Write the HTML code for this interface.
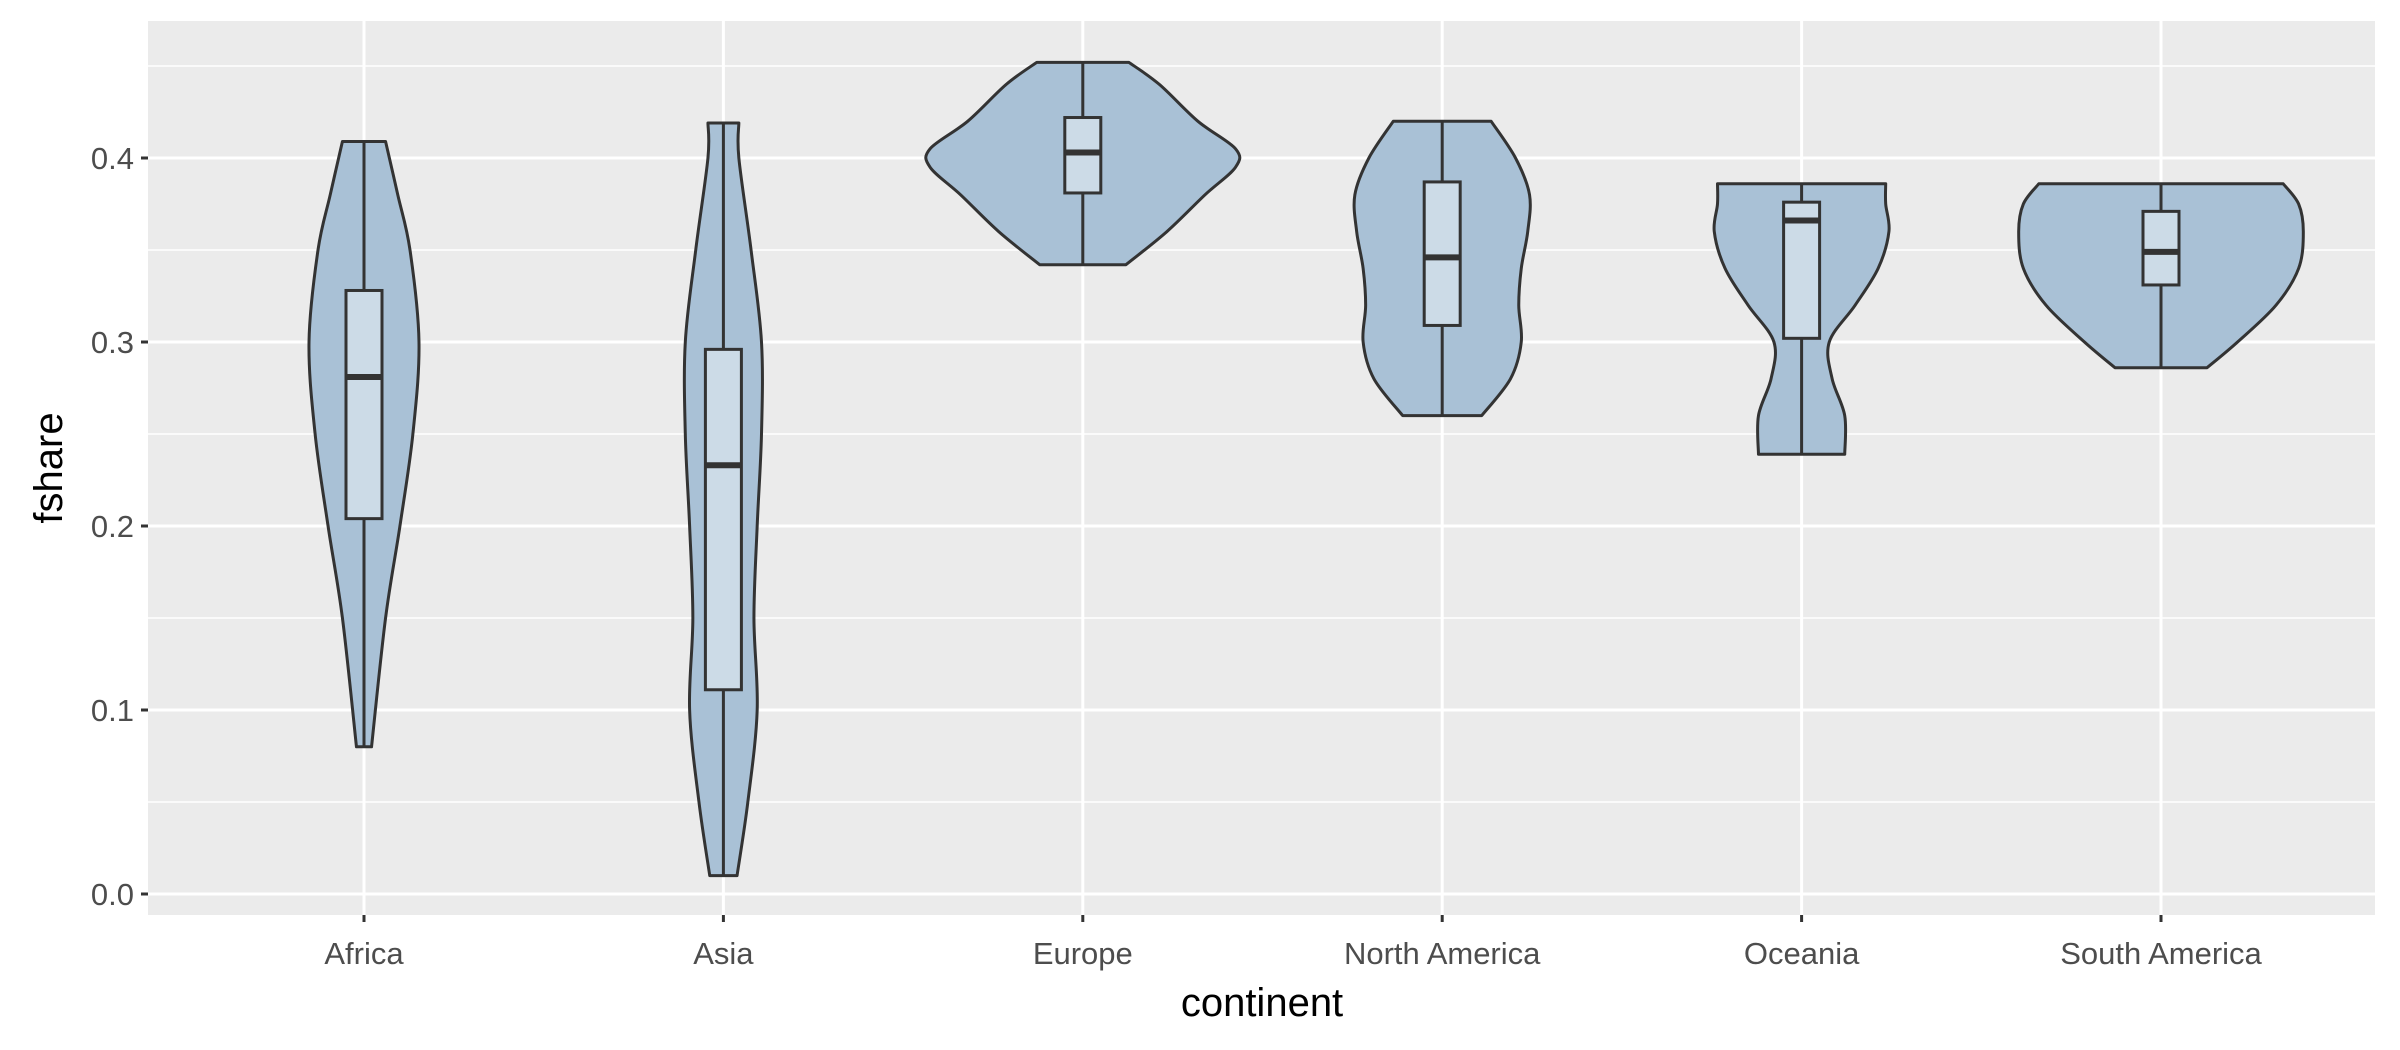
<!DOCTYPE html>
<html><head><meta charset="utf-8"><style>
html,body{margin:0;padding:0;background:#fff;}
svg{display:block;font-family:"Liberation Sans",sans-serif;}
</style></head><body>
<svg id="chart" width="2400" height="1050" viewBox="0 0 2400 1050" xmlns="http://www.w3.org/2000/svg">
<rect x="148" y="21" width="2227" height="894" fill="#EBEBEB"/>
<g id="grid"></g>
<g id="marks"></g>
<g id="axes"></g>
<text x="1262" y="1016" font-size="40" text-anchor="middle" fill="#000">continent</text>
<text transform="translate(62,468) rotate(-90)" font-size="40" text-anchor="middle" fill="#000">fshare</text>
</svg>
<script>
const categories=["Africa","Asia","Europe","North America","Oceania","South America"];
const yTicks=[0,0.1,0.2,0.3,0.4];
const yTickLabels=["0.0","0.1","0.2","0.3","0.4"];
const yMinor=[0.05,0.15,0.25,0.35,0.45];
const violinY=[
[0.08,0.15,0.2,0.25,0.3,0.35,0.38,0.409],
[0.01,0.05,0.1,0.15,0.2,0.25,0.3,0.35,0.4,0.419],
[0.342,0.36,0.38,0.395,0.405,0.42,0.44,0.452],
[0.26,0.28,0.30,0.32,0.34,0.36,0.38,0.40,0.42],
[0.239,0.26,0.28,0.30,0.32,0.34,0.36,0.375,0.386],
[0.286,0.30,0.32,0.34,0.36,0.375,0.386]];
const violinW=[
[0.021,0.06,0.10,0.136,0.153,0.128,0.094,0.06],
[0.038,0.068,0.094,0.085,0.094,0.106,0.106,0.077,0.043,0.043],
[0.12,0.234,0.34,0.425,0.425,0.32,0.213,0.128],
[0.11,0.19,0.22,0.213,0.22,0.238,0.243,0.204,0.136],
[0.12,0.12,0.085,0.077,0.149,0.213,0.243,0.234,0.234],
[0.128,0.213,0.32,0.383,0.396,0.383,0.34]];
const boxQ1=[0.204,0.111,0.381,0.309,0.302,0.331];
const boxMed=[0.281,0.233,0.403,0.346,0.366,0.349];
const boxQ3=[0.328,0.296,0.422,0.387,0.376,0.371];
const whiskLo=[0.08,0.01,0.342,0.26,0.239,0.286];
const whiskHi=[0.409,0.419,0.452,0.42,0.386,0.386];

const NS="http://www.w3.org/2000/svg";
const X0=364, DX=359.4;
function xs(i){return X0+i*DX;}
function ys(v){return 894-v*1840;}
function mk(tag,attrs,parent){const e=document.createElementNS(NS,tag);for(const k in attrs)e.setAttribute(k,attrs[k]);parent.appendChild(e);return e;}
const grid=document.getElementById('grid'),marks=document.getElementById('marks'),axes=document.getElementById('axes');
yMinor.forEach(v=>{const l=mk('line',{x1:148,x2:2375,y1:ys(v),y2:ys(v),stroke:'#fff','stroke-width':1.5},grid);

});
yTicks.forEach((v,i)=>{const l=mk('line',{x1:148,x2:2375,y1:ys(v),y2:ys(v),stroke:'#fff','stroke-width':3},grid);


const t=mk('line',{x1:141,x2:148,y1:ys(v),y2:ys(v),stroke:'#333','stroke-width':3},axes);


const tx=mk('text',{x:134,y:ys(v)+11,'font-size':31,'text-anchor':'end',fill:'#4D4D4D'},axes);tx.textContent=yTickLabels[i];

});
categories.forEach((c,i)=>{const l=mk('line',{x1:xs(i),x2:xs(i),y1:21,y2:915,stroke:'#fff','stroke-width':3},grid);


const t=mk('line',{x1:xs(i),x2:xs(i),y1:915,y2:922,stroke:'#333','stroke-width':3},axes);


const tx=mk('text',{x:xs(i),y:964,'font-size':31,'text-anchor':'middle',fill:'#4D4D4D'},axes);tx.textContent=c;

});
function smooth(pts){let d='';for(let i=0;i<pts.length-1;i++){const p0=pts[Math.max(0,i-1)],p1=pts[i],p2=pts[i+1],p3=pts[Math.min(pts.length-1,i+2)];
const c1=[p1[0]+(p2[0]-p0[0])/6,p1[1]+(p2[1]-p0[1])/6],c2=[p2[0]-(p3[0]-p1[0])/6,p2[1]-(p3[1]-p1[1])/6];
d+=` C${c1[0]},${c1[1]} ${c2[0]},${c2[1]} ${p2[0]},${p2[1]}`;}return d;}
categories.forEach((c,i)=>{const cx=xs(i);
const right=violinY[i].map((v,k)=>[cx+violinW[i][k]*DX,ys(v)]);
const left=violinY[i].map((v,k)=>[cx-violinW[i][k]*DX,ys(v)]).reverse();
let d=`M${cx},${ys(violinY[i][0])} L${right[0][0]},${right[0][1]}`+smooth(right)+` L${left[0][0]},${left[0][1]}`+smooth(left)+' Z';
const p=mk('path',{d:d,fill:'#A9C1D6',stroke:'#333','stroke-width':3,'stroke-linejoin':'round'},marks);


const w=mk('line',{x1:cx,x2:cx,y1:ys(whiskLo[i]),y2:ys(whiskHi[i]),stroke:'#333','stroke-width':3},marks);


const b=mk('rect',{x:cx-18,y:ys(boxQ3[i]),width:36,height:ys(boxQ1[i])-ys(boxQ3[i]),fill:'#CCDBE7',stroke:'#333','stroke-width':3},marks);


const m=mk('line',{x1:cx-18,x2:cx+18,y1:ys(boxMed[i]),y2:ys(boxMed[i]),stroke:'#333','stroke-width':6},marks);

});
</script>
</body></html>
